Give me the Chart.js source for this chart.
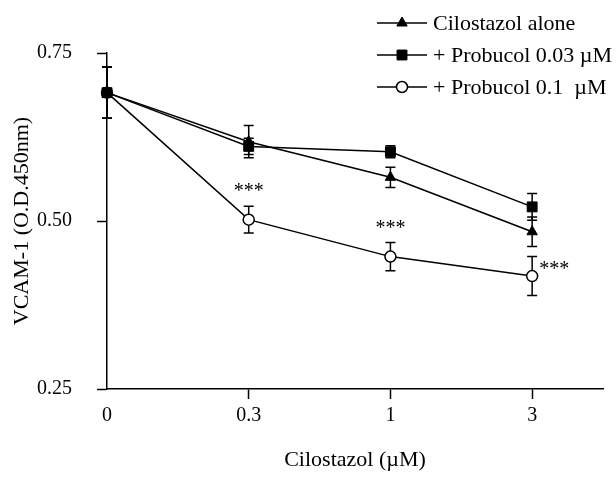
<!DOCTYPE html>
<html>
<head>
<meta charset="utf-8">
<script src="https://cdn.jsdelivr.net/npm/chart.js@4/dist/chart.umd.min.js"></script>
<style>
  body { margin: 0; background: #fff; }
  #wrap { width: 616px; height: 477px; }
</style>
</head>
<body>
<div id="wrap"><canvas id="myChart" width="616" height="477"></canvas></div>
<script>
// data
let xLabels = ['0', '0.3', '1', '3'];
let seriesNames = ['Cilostazol alone', '+ Probucol 0.03 \u00b5M', '+ Probucol 0.1  \u00b5M'];

let aloneVals = [0.691, 0.618, 0.565, 0.484];
let aloneErr = [0.038, 0.024, 0.015, 0.022];

let prob003Vals = [0.691, 0.611, 0.603, 0.521];
let prob003Err = [0.038, 0.012, 0.009, 0.020];

let prob01Vals = [0.691, 0.502, 0.447, 0.418];
let prob01Err = [0.038, 0.020, 0.021, 0.029];

let sigMarks = ['', '***', '***', '***'];

let serif = '"Liberation Serif", "Times New Roman", serif';

function toPoints(vals) {
    return vals.map((v, i) => ({ x: i, y: v }));
}

// vertical error bars with caps, under the markers
const errorBars = {
    id: 'errorBars',
    beforeDatasetsDraw(chart) {
        let ctx = chart.ctx;
        let yScale = chart.scales.y;
        ctx.save();
        ctx.strokeStyle = '#000';
        ctx.lineWidth = 1.5;
        chart.data.datasets.forEach((ds, i) => {
            let meta = chart.getDatasetMeta(i);
            meta.data.forEach((pt, j) => {
                let v = ds.data[j].y;
                let e = ds.errors[j];
                let top = yScale.getPixelForValue(v + e);
                let bot = yScale.getPixelForValue(v - e);
                ctx.beginPath();
                ctx.moveTo(pt.x, top);
                ctx.lineTo(pt.x, bot);
                ctx.moveTo(pt.x - 5, top);
                ctx.lineTo(pt.x + 5, top);
                ctx.moveTo(pt.x - 5, bot);
                ctx.lineTo(pt.x + 5, bot);
                ctx.stroke();
            });
        });
        ctx.restore();
    }
};

// significance stars for the 0.1 uM series
const stars = {
    id: 'stars',
    afterDatasetsDraw(chart) {
        let ctx = chart.ctx;
        let yScale = chart.scales.y;
        let meta = chart.getDatasetMeta(2);
        let ds = chart.data.datasets[2];
        ctx.save();
        ctx.fillStyle = '#000';
        ctx.font = '20px ' + serif;
        ctx.textBaseline = 'middle';
        sigMarks.forEach((s, j) => {
            if (!s) return;
            let pt = meta.data[j];
            if (j === sigMarks.length - 1) {
                ctx.textAlign = 'left';
                ctx.fillText(s, pt.x + 7, pt.y - 6);
            } else {
                let top = yScale.getPixelForValue(ds.data[j].y + ds.errors[j]);
                ctx.textAlign = 'center';
                ctx.fillText(s, pt.x, top - 14);
            }
        });
        ctx.restore();
    }
};

// legend in the top right corner, line through the marker
const cornerLegend = {
    id: 'cornerLegend',
    afterDraw(chart) {
        let ctx = chart.ctx;
        ctx.save();
        chart.data.datasets.forEach((ds, i) => {
            let y = 23 + i * 32;
            ctx.strokeStyle = '#000';
            ctx.lineWidth = 1.5;
            ctx.beginPath();
            ctx.moveTo(377, y);
            ctx.lineTo(427, y);
            ctx.stroke();
            ctx.fillStyle = ds.pointBackgroundColor;
            ctx.strokeStyle = '#000';
            ctx.lineWidth = ds.pointBorderWidth;
            Chart.helpers.drawPoint(ctx, {
                pointStyle: ds.pointStyle,
                radius: ds.pointRadius,
                borderWidth: ds.pointBorderWidth,
                rotation: 0
            }, 402, y);
            ctx.fillStyle = '#000';
            ctx.font = '22px ' + serif;
            ctx.textAlign = 'left';
            ctx.textBaseline = 'middle';
            ctx.fillText(ds.label, 433, y + 1);
        });
        ctx.restore();
    }
};

let ctx = document.getElementById('myChart').getContext('2d');

let myChart = new Chart(ctx, {
    type: 'line',
    data: {
        datasets: [{
            label: seriesNames[0],
            data: toPoints(aloneVals),
            errors: aloneErr,
            borderColor: '#000',
            borderWidth: 1.5,
            pointStyle: 'triangle',
            pointRadius: 6,
            pointBackgroundColor: '#000',
            pointBorderColor: '#000',
            pointBorderWidth: 1
        },
        {
            label: seriesNames[1],
            data: toPoints(prob003Vals),
            errors: prob003Err,
            borderColor: '#000',
            borderWidth: 1.5,
            pointStyle: 'rect',
            pointRadius: 7,
            pointBackgroundColor: '#000',
            pointBorderColor: '#000',
            pointBorderWidth: 1
        },
        {
            label: seriesNames[2],
            data: toPoints(prob01Vals),
            errors: prob01Err,
            borderColor: '#000',
            borderWidth: 1.5,
            pointStyle: 'circle',
            pointRadius: 5.5,
            pointBackgroundColor: '#fff',
            pointBorderColor: '#000',
            pointBorderWidth: 1.5
        }]
    },
    options: {
        responsive: false,
        animation: false,
        clip: false,
        layout: {
            padding: { top: 53, right: 13, left: 0, bottom: 0 }
        },
        plugins: {
            legend: { display: false },
            tooltip: { enabled: false }
        },
        scales: {
            x: {
                type: 'linear',
                min: 0,
                max: 3.5,
                afterFit: scale => { scale.height = 88; },
                afterBuildTicks: scale => {
                    scale.ticks = [0, 1, 2, 3, 3.5].map(v => ({ value: v }));
                },
                ticks: {
                    color: '#000',
                    padding: 5,
                    maxRotation: 0,
                    font: { family: serif, size: 20 },
                    callback: v => xLabels[v] !== undefined ? xLabels[v] : ''
                },
                grid: {
                    drawOnChartArea: false,
                    tickLength: 10,
                    tickWidth: 1.5,
                    tickColor: c => (c.tick && c.tick.value > 0 && c.tick.value <= 3) ? '#000' : 'rgba(0,0,0,0)'
                },
                border: { color: '#000', width: 1.5 },
                title: {
                    display: true,
                    text: 'Cilostazol (\u00b5M)',
                    color: '#000',
                    font: { family: serif, size: 22 },
                    padding: { top: 0, bottom: 4 }
                }
            },
            y: {
                min: 0.25,
                max: 0.75,
                afterFit: scale => { scale.width = 107; },
                ticks: {
                    stepSize: 0.25,
                    color: '#000',
                    padding: 25,
                    font: { family: serif, size: 20 },
                    callback: v => v.toFixed(2)
                },
                grid: {
                    drawOnChartArea: false,
                    tickLength: 10,
                    tickWidth: 1.5,
                    tickColor: '#000'
                },
                border: { color: '#000', width: 1.5 },
                title: {
                    display: true,
                    text: 'VCAM-1 (O.D.450nm)',
                    color: '#000',
                    font: { family: serif, size: 22 },
                    padding: { top: 9, bottom: 0 }
                }
            }
        }
    },
    plugins: [errorBars, stars, cornerLegend]
});
</script>
</body>
</html>
